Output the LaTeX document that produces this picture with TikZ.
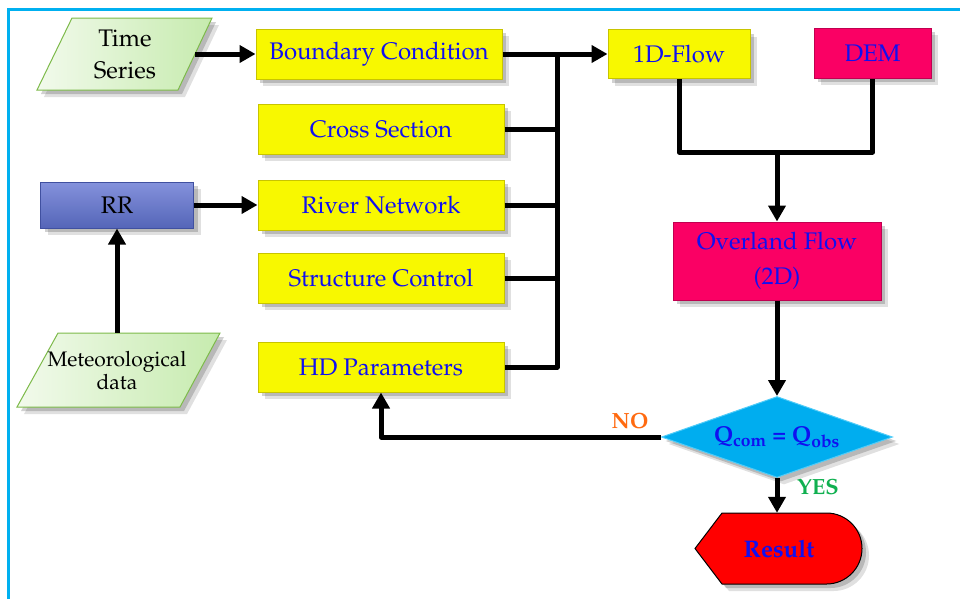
\documentclass[tikz,border=0pt]{standalone}
\usepackage[T1]{fontenc}
\usepackage{mathpazo}
\usetikzlibrary{shapes.geometric,arrows.meta,shadows,calc}
\definecolor{frameblue}{HTML}{00B0F0}
\definecolor{yfill}{HTML}{F8F800}
\definecolor{yedge}{HTML}{C8C400}
\definecolor{magfill}{HTML}{FA0064}
\definecolor{magedge}{HTML}{C00050}
\definecolor{txtblue}{HTML}{1010F0}
\definecolor{cyanfill}{HTML}{00ADEF}
\definecolor{cyanedge}{HTML}{50CCF8}
\definecolor{noorange}{HTML}{FF6A10}
\definecolor{yesgreen}{HTML}{10B050}
\definecolor{paraL}{HTML}{F2FAEC}
\definecolor{paraR}{HTML}{C6EBAE}
\definecolor{paraedge}{HTML}{7DBA4A}
\definecolor{rrtop}{HTML}{8492DC}
\definecolor{rrbot}{HTML}{5565B8}
\definecolor{rredge}{HTML}{4050A0}
\tikzset{
  shad/.style={drop shadow={shadow xshift=7pt,shadow yshift=-7pt,opacity=0.12,fill=black},
               drop shadow={shadow xshift=4pt,shadow yshift=-4pt,opacity=0.18,fill=black}},
  bigfont/.style={font=\fontsize{24}{28}\selectfont},
  ybox/.style={rectangle, fill=yfill, draw=yedge, line width=1pt, text=txtblue, bigfont,
               minimum width=246pt, minimum height=50pt, inner sep=0pt, shad},
  mbox/.style={rectangle, fill=magfill, draw=magedge, line width=1pt, text=txtblue, bigfont,
               inner sep=0pt, shad, align=center},
  para/.style={left color=paraL, right color=paraR, draw=paraedge, line width=1pt, shad},
  paratext/.style={rectangle, inner sep=0pt, align=center, text=black},
  conn/.style={line width=5pt, black, line join=round},
  arr/.style={conn, -{Triangle[length=16pt,width=17pt]}},
  lbl/.style={font=\fontsize{22}{26}\selectfont\bfseries}
}
\begin{document}
\begin{tikzpicture}[x=1pt,y=-1pt]
\useasboundingbox (0,0) rectangle (960,598);
\begin{scope}
  \clip (0,0) rectangle (960,598);
  \draw[frameblue, line width=3pt] (8,9) rectangle (1100,700);
\end{scope}

% Time series
\path[para] (37,90) -- (72,18) -- (212,18) -- (178,90) -- cycle;
\node[paratext, minimum width=140pt, minimum height=72pt, font=\fontsize{24}{32}\selectfont] (ts) at (125,54) {Time\\Series};

% Meteorological data
\path[para] (17,407) -- (58,333) -- (220,333) -- (180,407) -- cycle;
\node[paratext, minimum width=163pt, minimum height=74pt, font=\fontsize{21}{23}\selectfont] (met) at (117,370) {Meteorological\\data};

% RR
\node[rectangle, top color=rrtop, bottom color=rrbot, draw=rredge, line width=1pt, shad,
      minimum width=153pt, minimum height=46pt, inner sep=0pt, bigfont] (rr) at (117,205) {RR};

% yellow boxes
\node[ybox] (bc) at (379,54) {Boundary Condition};
\node[ybox] (cs) at (381,129) {Cross Section};
\node[ybox] (rn) at (381,205) {River Network};
\node[ybox] (sc) at (381,278) {Structure Control};
\node[ybox] (hd) at (381,367) {HD Parameters};
\node[ybox, minimum width=142pt, minimum height=49pt] (fl) at (679,54) {1D-Flow};

% magenta boxes
\node[mbox, minimum width=117pt, minimum height=50pt] (dem) at (872.5,53) {DEM};
\node[mbox, minimum width=208pt, minimum height=78pt, font=\fontsize{24}{35}\selectfont] (ol) at (777,261) {Overland Flow\\(2D)};

% decision
\node[diamond, aspect=2.85, minimum width=231pt, minimum height=81pt, inner sep=0pt,
      fill=cyanfill, draw=cyanedge, line width=1pt, shad, text=txtblue,
      font=\fontsize{23}{28}\selectfont\bfseries] (dia) at (777,437)
      {Q\textsubscript{com} = Q\textsubscript{obs}};

% result
\path[fill=red, draw=black, line width=1pt, shad]
  (695,548.5) -- (722,513) -- (826.5,513) arc[start angle=-90, end angle=90, radius=35.5]
  -- (722,584) -- cycle;
\node[rectangle, minimum width=120pt, minimum height=71pt, inner sep=0pt, text=txtblue,
      font=\fontsize{24}{28}\selectfont\bfseries] (res) at (779,548.5) {Result};

% connectors
\draw[arr] (ts.east) -- (bc.west);
\draw[arr] (rr.east) -- (rn.west);
\draw[arr] (met.north) -- (rr.south);
\draw[arr] (bc.east) -- (fl.west);
\coordinate (bt) at (557,54);
\coordinate (bb) at (557,367);
\draw[conn] (bt) -- (bb) -- (hd.east);
\foreach \n in {cs,rn,sc} \draw[conn] (\n.east) -- (\n.east -| bt);

\coordinate (jn) at (777,152);
\draw[conn] (fl.south) |- (jn) -| (dem.south);
\draw[arr] (jn) -- (ol.north);
\draw[arr] (ol.south) -- (dia.north);
\draw[arr] (dia.west) -| (hd.south);
\draw[arr] (dia.south) -- (dia.south |- res.north);

\node[lbl, text=noorange] (no) at (630,421) {NO};
\node[lbl, text=yesgreen] (yes) at (818,487) {YES};
\end{tikzpicture}
\end{document}
